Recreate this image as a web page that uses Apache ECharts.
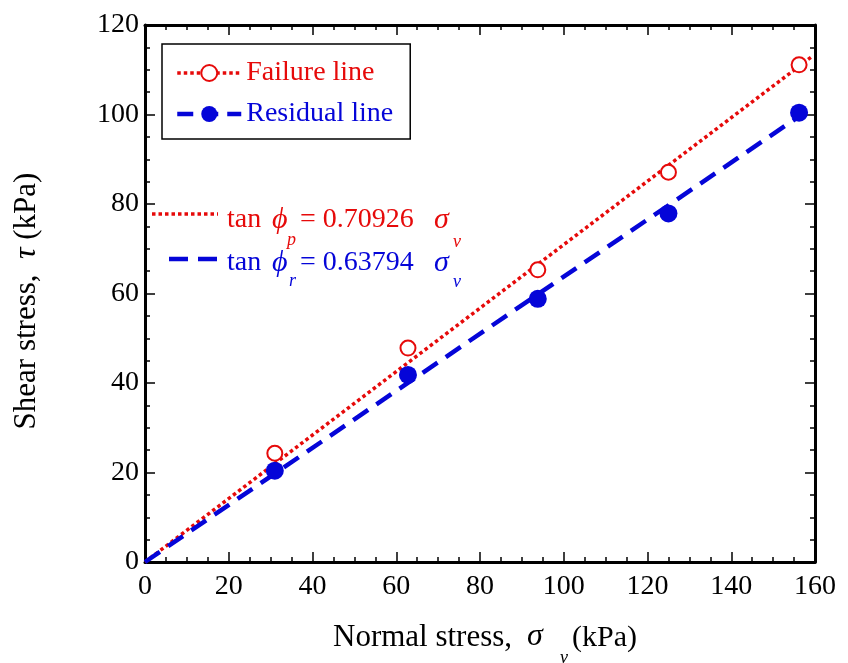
<!DOCTYPE html>
<html><head><meta charset="utf-8">
<script src="https://cdn.jsdelivr.net/npm/echarts@6/dist/echarts.min.js"></script>
<style>html,body{margin:0;padding:0;background:#fff}#c{width:848px;height:663px}</style>
</head><body><div id="c"></div>
<script>
// ---- data ----
const normalStress = [31.0, 62.8, 93.8, 125.0, 156.2];
const failureShear = [24.3, 47.8, 65.3, 87.1, 111.1];
const residualShear = [20.4, 41.8, 58.8, 77.9, 100.4];
const failureFitX = [0, 159.2];
const failureFitY = [0, 112.9];
const residualFitX = [0, 156.2];
const residualFitY = [0, 99.6];
const xTickRange = [0, 160, 20];
const yTickRange = [0, 120, 20];
const legendNames = ['Failure line', 'Residual line'];
const eqFailure = ['tan', '\u03D5', 'p', '= 0.70926', 'σ', 'v'];
const eqResidual = ['tan', '\u03D5', 'r', '= 0.63794', 'σ', 'v'];

const RED = '#e60a0a', BLUE = '#0505d8';
const FONT = '"Liberation Serif", "Times New Roman", serif';
const zip = (a, b) => a.map((v, i) => [v, b[i]]);

const axisLine = { onZero: false, lineStyle: { color: '#000', width: 3 } };
const tick = { inside: true, length: 10, lineStyle: { color: '#000', width: 1.5 } };
const minor = { show: true, splitNumber: 4, length: 5, lineStyle: { color: '#000', width: 1.5 } };
const lbl = { color: '#000', fontFamily: FONT, fontSize: 28 };

function xAx(pos, show) {
  return { type: 'value', min: xTickRange[0], max: xTickRange[1], interval: xTickRange[2], position: pos,
    axisLine, axisTick: tick, minorTick: minor, splitLine: { show: false }, minorSplitLine: { show: false },
    axisLabel: Object.assign({ show, margin: 11 }, lbl) };
}
function yAx(pos, show) {
  return { type: 'value', min: yTickRange[0], max: yTickRange[1], interval: yTickRange[2], position: pos,
    axisLine, axisTick: tick, minorTick: minor, splitLine: { show: false }, minorSplitLine: { show: false },
    axisLabel: Object.assign({ show, margin: 6 }, lbl) };
}

function txt(x, y, text, color, size, italic, align) {
  return { type: 'text', x, y, z: 100, style: { text, fill: color, font: (italic ? 'italic ' : '') + size + 'px ' + FONT,
    textAlign: align || 'left', textVerticalAlign: 'middle', verticalAlign: 'middle' } };
}

const chart = echarts.init(document.getElementById('c'), null, { renderer: 'canvas' });
chart.setOption({
  animation: false,
  backgroundColor: '#fff',
  grid: { left: 145, right: 33, top: 25, bottom: 101 },
  xAxis: [xAx('bottom', true), xAx('top', false)],
  yAxis: [yAx('left', true), yAx('right', false)],
  legend: {
    left: 162, top: 44, orient: 'vertical',
    backgroundColor: '#fff', borderColor: '#000', borderWidth: 1.5, borderRadius: 0,
    padding: [15, 17, 11, 13], itemGap: 13, itemWidth: 64, itemHeight: 20,
    textStyle: { fontFamily: FONT, fontSize: 28 },
    data: [
      { name: legendNames[0], textStyle: { color: RED }, lineStyle: { color: RED, width: 3.5, type: [3.5, 3], opacity: 1 } },
      { name: legendNames[1], textStyle: { color: BLUE }, lineStyle: { color: BLUE, width: 4.5, type: [16, 9], opacity: 1 } }
    ]
  },
  series: [
    { name: 'failureFit', type: 'line', data: zip(failureFitX, failureFitY), symbol: 'none', silent: true, z: 2,
      lineStyle: { color: RED, width: 3.5, type: [3.5, 3], cap: 'butt' } },
    { name: 'residualFit', type: 'line', data: zip(residualFitX, residualFitY), symbol: 'none', silent: true, z: 2,
      lineStyle: { color: BLUE, width: 4.5, type: [18, 10], cap: 'butt' } },
    { name: legendNames[0], type: 'line', data: zip(normalStress, failureShear), symbol: 'circle', symbolSize: 15,
      showSymbol: true, z: 5, itemStyle: { color: '#fff', borderColor: RED, borderWidth: 2, opacity: 1 },
      lineStyle: { color: RED, width: 3.5, type: [3.5, 3], opacity: 0 } },
    { name: legendNames[1], type: 'line', data: zip(normalStress, residualShear), symbol: 'circle', symbolSize: 18,
      showSymbol: true, z: 5, itemStyle: { color: BLUE, borderColor: BLUE, borderWidth: 0, opacity: 1 },
      lineStyle: { color: BLUE, width: 4.5, type: [16, 9], opacity: 0 } }
  ],
  graphic: [
    { type: 'line', z: 100, shape: { x1: 152, y1: 214, x2: 218, y2: 214 }, style: { stroke: RED, lineWidth: 3.5, lineDash: [3.5, 3] } },
    { type: 'line', z: 100, shape: { x1: 169, y1: 259, x2: 218, y2: 259 }, style: { stroke: BLUE, lineWidth: 4.5, lineDash: [19, 10] } },
    txt(227, 220, eqFailure[0], RED, 28),
    txt(272, 220, eqFailure[1], RED, 30, true),
    txt(287, 240, eqFailure[2], RED, 18, true),
    txt(300, 220, eqFailure[3], RED, 28),
    txt(434, 220, eqFailure[4], RED, 30, true),
    txt(453, 242, eqFailure[5], RED, 18, true),
    txt(227, 263, eqResidual[0], BLUE, 28),
    txt(272, 263, eqResidual[1], BLUE, 30, true),
    txt(289, 281, eqResidual[2], BLUE, 18, true),
    txt(300, 263, eqResidual[3], BLUE, 28),
    txt(434, 263, eqResidual[4], BLUE, 30, true),
    txt(453, 282, eqResidual[5], BLUE, 18, true),
    // axis titles
    txt(333, 638, 'Normal stress,', '#000', 31),
    txt(527, 637, 'σ', '#000', 32, true),
    txt(560, 658, 'v', '#000', 18, true),
    txt(572, 638, '(kPa)', '#000', 30),
    { type: 'text', x: 27, y: 301, rotation: Math.PI / 2, z: 100,
      style: { text: 'Shear stress,  {i|τ} (kPa)', fill: '#000', font: '31px ' + FONT,
        textAlign: 'center', textVerticalAlign: 'middle', verticalAlign: 'middle',
        rich: { i: { fontStyle: 'italic', fontSize: 32, fontFamily: FONT, fill: '#000', color: '#000' } } } }
  ]
});
</script></body></html>
